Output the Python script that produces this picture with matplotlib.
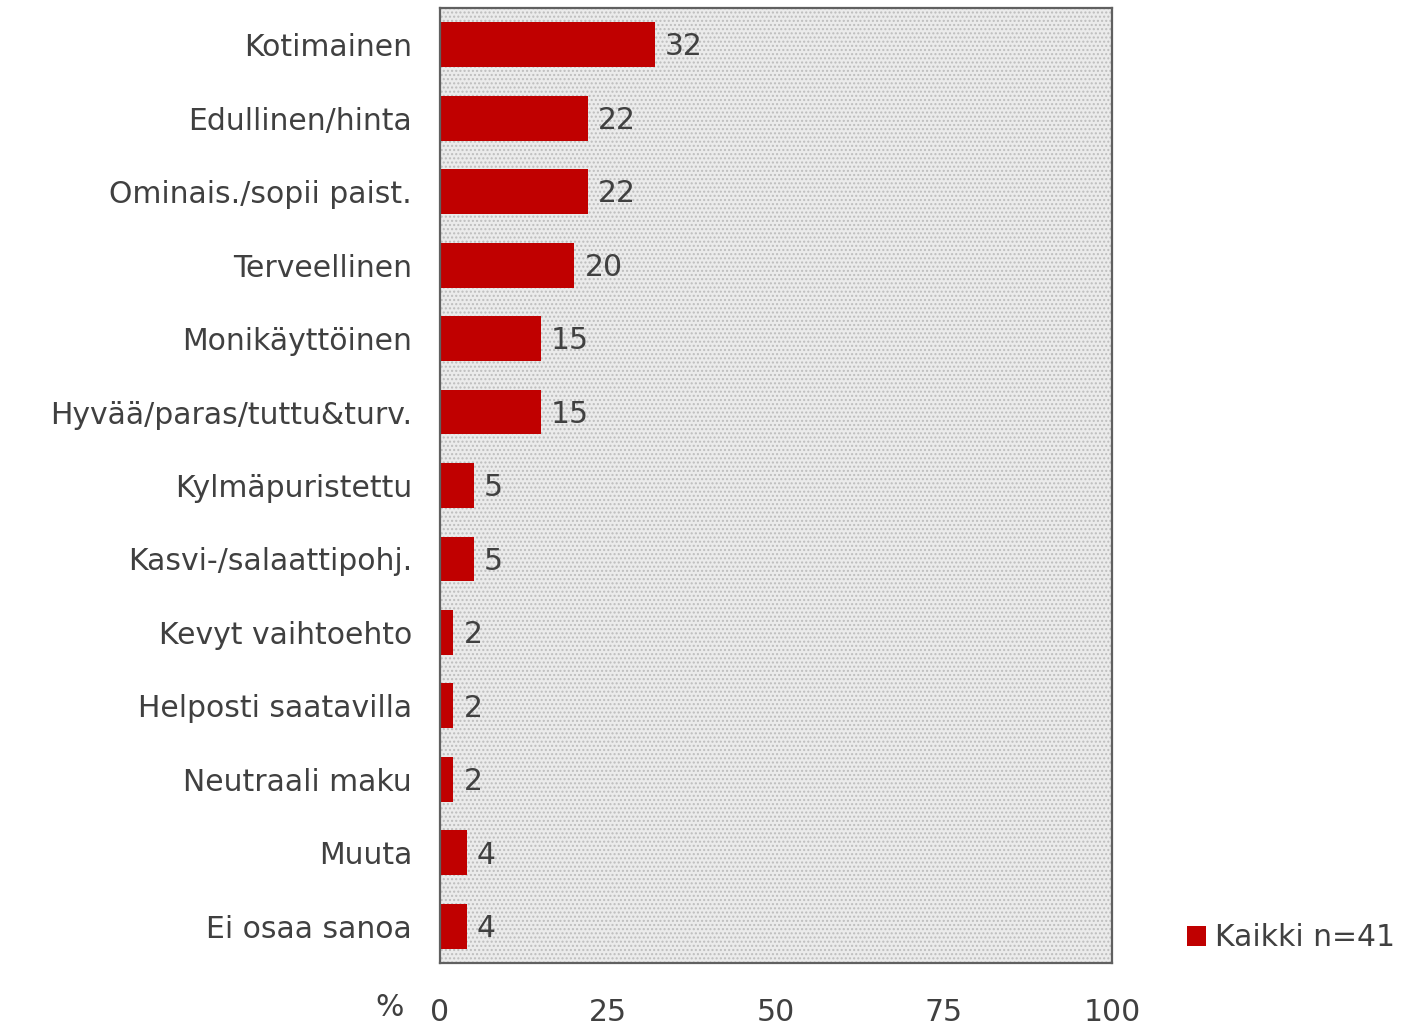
import numpy as np
import matplotlib.pyplot as plt
from matplotlib.patches import Rectangle

plt.rcParams['font.family'] = ['DejaVu Sans']

# Data
kategoriat = ["Kotimainen", "Edullinen/hinta", "Ominais./sopii paist.", "Terveellinen",
              "Monikäyttöinen", "Hyvää/paras/tuttu&turv.", "Kylmäpuristettu",
              "Kasvi-/salaattipohj.", "Kevyt vaihtoehto", "Helposti saatavilla",
              "Neutraali maku", "Muuta", "Ei osaa sanoa"]
arvot = [32, 22, 22, 20, 15, 15, 5, 5, 2, 2, 2, 4, 4]
x_ticks = [0, 25, 50, 75, 100]
sarja = "Kaikki n=41"

teksti = "#404040"
punainen = "#c00000"
fs = 21.5

fig = plt.figure(figsize=(14.02, 10.27), dpi=100)
ax = fig.add_axes([440 / 1402, 64 / 1027, 672 / 1402, 955 / 1027])

# pisteinen harmaa tausta
ax.set_facecolor("#ebebeb")
ax.add_patch(Rectangle((0, 0), 1, 1, transform=ax.transAxes, facecolor="none",
                       edgecolor="#bdbdbd", hatch="....", linewidth=0, zorder=0))

y = np.arange(len(kategoriat))
ax.barh(y, arvot, height=0.61, color=punainen, label=sarja, zorder=2)

for yi, v in zip(y, arvot):
    ax.text(v + 1.5, yi + 0.03, str(v), va="center", ha="left", fontsize=fs, color=teksti)

ax.set_xlim(0, 100)
ax.set_ylim(len(kategoriat) - 0.5, -0.5)
ax.set_yticks(y)
ax.set_yticklabels(kategoriat, fontsize=fs, color=teksti)
ax.set_xticks(x_ticks)
ax.set_xticklabels([str(t) for t in x_ticks], fontsize=fs, color=teksti)
ax.tick_params(axis="both", length=0)
ax.tick_params(axis="x", pad=25)
ax.tick_params(axis="y", pad=20)

for s in ax.spines.values():
    s.set_color("#606060")
    s.set_linewidth(1.6)

fig.text(390 / 1402, 1 - 1008 / 1027, "%", fontsize=fs, color=teksti, ha="center", va="center")

fig.legend(loc="center left", bbox_to_anchor=(1172 / 1402, 1 - 938 / 1027), frameon=False,
           fontsize=fs, handlelength=0.65, handleheight=0.65, handletextpad=0.3,
           labelcolor=teksti, borderpad=0)

fig.savefig("out.png", dpi=100)
